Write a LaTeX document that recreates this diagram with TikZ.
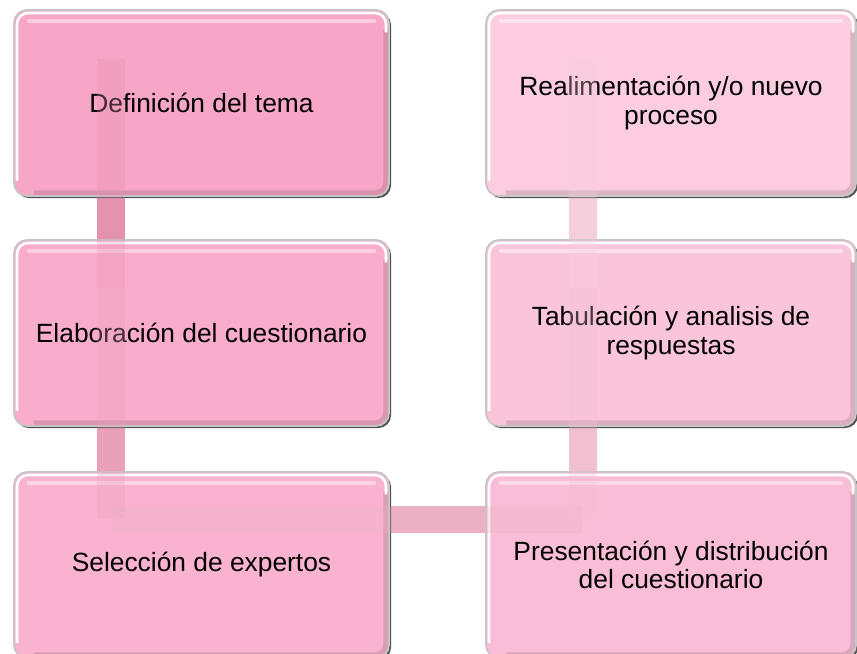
\documentclass[tikz,border=0pt]{standalone}
\usepackage{fontspec}
\setmainfont{Liberation Sans}
\usetikzlibrary{shadows}

\definecolor{rosaA}{HTML}{F8A6C7}
\definecolor{rosaB}{HTML}{F9ACCB}
\definecolor{rosaC}{HTML}{F9B3D0}
\definecolor{rosaD}{HTML}{F9BDD7}
\definecolor{rosaE}{HTML}{FAC5DB}
\definecolor{rosaF}{HTML}{FCCDE0}
\definecolor{unionA}{HTML}{E592AE}
\definecolor{unionB}{HTML}{E8A1B9}
\definecolor{unionC}{HTML}{EBB0C3}
\definecolor{unionD}{HTML}{F0C0D0}
\definecolor{unionE}{HTML}{F4CFDB}

\newcommand{\trazos}{%
  \fill [unionA] (1.94,11.90) rectangle (2.50,7.32);
  \fill [unionB] (1.94,7.32) rectangle (2.50,2.72);
  \fill [unionC] (2.24,2.96) rectangle (11.64,2.42);
  \fill [unionD] (11.38,2.72) rectangle (11.94,7.32);
  \fill [unionE] (11.38,7.32) rectangle (11.94,11.90);
}

\tikzset{
  caja/.style={rectangle, rounded corners=0.26cm, draw=gray!45, line width=1pt,
    minimum height=3.72cm, align=center, font=\fontsize{15}{16}\selectfont,
    drop shadow={shadow xshift=1.2pt, shadow yshift=-1.2pt, fill=black!75, opacity=.9},
    path picture={
      \draw [black, opacity=.12, line width=3pt, rounded corners=0.22cm]
        ([shift={(-0.06,-0.4)}]path picture bounding box.north east)
        -- ([shift={(-0.06,0.06)}]path picture bounding box.south east)
        -- ([shift={(0.4,0.06)}]path picture bounding box.south west);
      \draw [white, line width=1.5pt, rounded corners=0.22cm]
        ([shift={(0.06,0.3)}]path picture bounding box.south west)
        -- ([shift={(0.06,-0.06)}]path picture bounding box.north west)
        -- ([shift={(-0.06,-0.06)}]path picture bounding box.north east)
        -- ([shift={(-0.06,-0.45)}]path picture bounding box.north east);
      \draw [white, opacity=.45, line width=2.5pt, line cap=round]
        ([shift={(0.3,-0.22)}]path picture bounding box.north west)
        -- ([shift={(-0.3,-0.22)}]path picture bounding box.north east);
    }},
  izq/.style={caja, minimum width=7.5cm},
  der/.style={caja, minimum width=7.4cm}
}

\begin{document}
\begin{tikzpicture}
  \useasboundingbox (0,0) rectangle (17.14,13.08);
  \trazos
  \node [izq, fill=rosaA] (def) at (4.03,11.02) {Definición del tema};
  \node [izq, fill=rosaB] (elab) at (4.03,6.42) {Elaboración del cuestionario};
  \node [izq, fill=rosaC] (selec) at (4.03,1.78) {Selección de expertos};
  \node [der, fill=rosaD] (pres) at (13.42,1.78) {Presentación y distribución\\del cuestionario};
  \node [der, fill=rosaE] (tab) at (13.42,6.42) {Tabulación y analisis de\\respuestas};
  \node [der, fill=rosaF] (real) at (13.42,11.02) {Realimentación y/o nuevo\\proceso};
  \begin{scope}[opacity=.3]
    \trazos
  \end{scope}
\end{tikzpicture}
\end{document}
